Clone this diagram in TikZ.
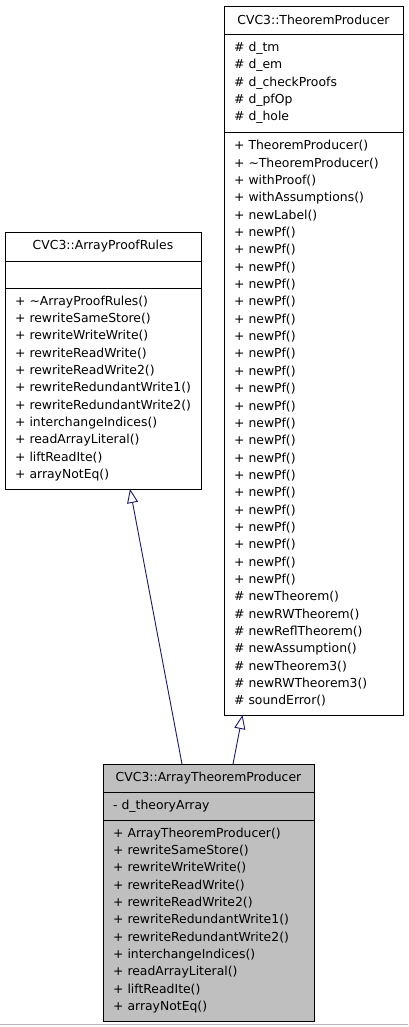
\documentclass[tikz,border=0pt]{standalone}
\usepackage{fontspec}
\newfontfamily\umlfont{DejaVu Sans}
\definecolor{navyline}{RGB}{25, 25, 112}
\definecolor{nodegray}{RGB}{191, 191, 191}
\usetikzlibrary{arrows.meta, positioning}
\tikzset{
	umlpart/.style={rectangle, draw=black, line width=0.9pt, fill=white, outer sep=0pt, inner xsep=10pt, inner ysep=0pt, align=left, font=\umlfont\fontsize{12.4}{17.35}\selectfont},
	umltitle/.style={umlpart, align=center},
	tpbox/.style={text width=159pt},
	aprbox/.style={text width=176pt},
	atpbox/.style={text width=191pt, fill=nodegray},
	inheritarrow/.style={{Triangle[open, length=14pt, width=11pt]}-, line width=0.9pt, draw=navyline},
}
\begin{document}
\begin{tikzpicture}[x=1pt, y=1pt]
		\useasboundingbox (0,0) rectangle (408,-1027);
		% base class: TheoremProducer
		\node[umltitle, tpbox, anchor=north west, minimum height=28pt] (tpTitle) at (224,-6) {CVC3::TheoremProducer};
		\node[umlpart, tpbox, below=0pt of tpTitle, minimum height=98pt] (tpAttr) {\# d\_tm\\\# d\_em\\\# d\_checkProofs\\\# d\_pfOp\\\# d\_hole};
		\node[umlpart, tpbox, below=0pt of tpAttr, minimum height=583pt] (tpMethods) {+ TheoremProducer()\\+ \textasciitilde TheoremProducer()\\+ withProof()\\+ withAssumptions()\\+ newLabel()\\
			+ newPf()\\+ newPf()\\+ newPf()\\+ newPf()\\+ newPf()\\+ newPf()\\+ newPf()\\
			+ newPf()\\+ newPf()\\+ newPf()\\+ newPf()\\+ newPf()\\+ newPf()\\+ newPf()\\
			+ newPf()\\+ newPf()\\+ newPf()\\+ newPf()\\+ newPf()\\+ newPf()\\+ newPf()\\
			\# newTheorem()\\\# newRWTheorem()\\\# newReflTheorem()\\\# newAssumption()\\\# newTheorem3()\\\# newRWTheorem3()\\\# soundError()};
		% base class: ArrayProofRules
		\node[umltitle, aprbox, anchor=north west, minimum height=29pt] (aprTitle) at (5,-232) {CVC3::ArrayProofRules};
		\node[umlpart, aprbox, below=0pt of aprTitle, minimum height=27pt] (aprAttr) {};
		\node[umlpart, aprbox, below=0pt of aprAttr, minimum height=201pt] (aprMethods) {+ \textasciitilde ArrayProofRules()\\+ rewriteSameStore()\\+ rewriteWriteWrite()\\+ rewriteReadWrite()\\+ rewriteReadWrite2()\\+ rewriteRedundantWrite1()\\+ rewriteRedundantWrite2()\\+ interchangeIndices()\\+ readArrayLiteral()\\+ liftReadIte()\\+ arrayNotEq()};
		% derived class: ArrayTheoremProducer
		\node[umltitle, atpbox, anchor=north west, minimum height=28pt] (atpTitle) at (103,-764) {CVC3::ArrayTheoremProducer};
		\node[umlpart, atpbox, below=0pt of atpTitle, minimum height=28pt] (atpAttr) {- d\_theoryArray};
		\node[umlpart, atpbox, below=0pt of atpAttr, minimum height=201pt] (atpMethods) {+ ArrayTheoremProducer()\\+ rewriteSameStore()\\+ rewriteWriteWrite()\\+ rewriteReadWrite()\\+ rewriteReadWrite2()\\+ rewriteRedundantWrite1()\\+ rewriteRedundantWrite2()\\+ interchangeIndices()\\+ readArrayLiteral()\\+ liftReadIte()\\+ arrayNotEq()};
		% inheritance
		\draw[inheritarrow] ([xshift=27pt]aprMethods.south) -- ([xshift=-26.5pt]atpTitle.north);
		\draw[inheritarrow] ([xshift=-71pt]tpMethods.south) -- ([xshift=24.5pt]atpTitle.north);
		\draw[gray!55, line width=1.5pt] (0,-1024.5) -- (408,-1024.5);
	\end{tikzpicture}
\end{document}
